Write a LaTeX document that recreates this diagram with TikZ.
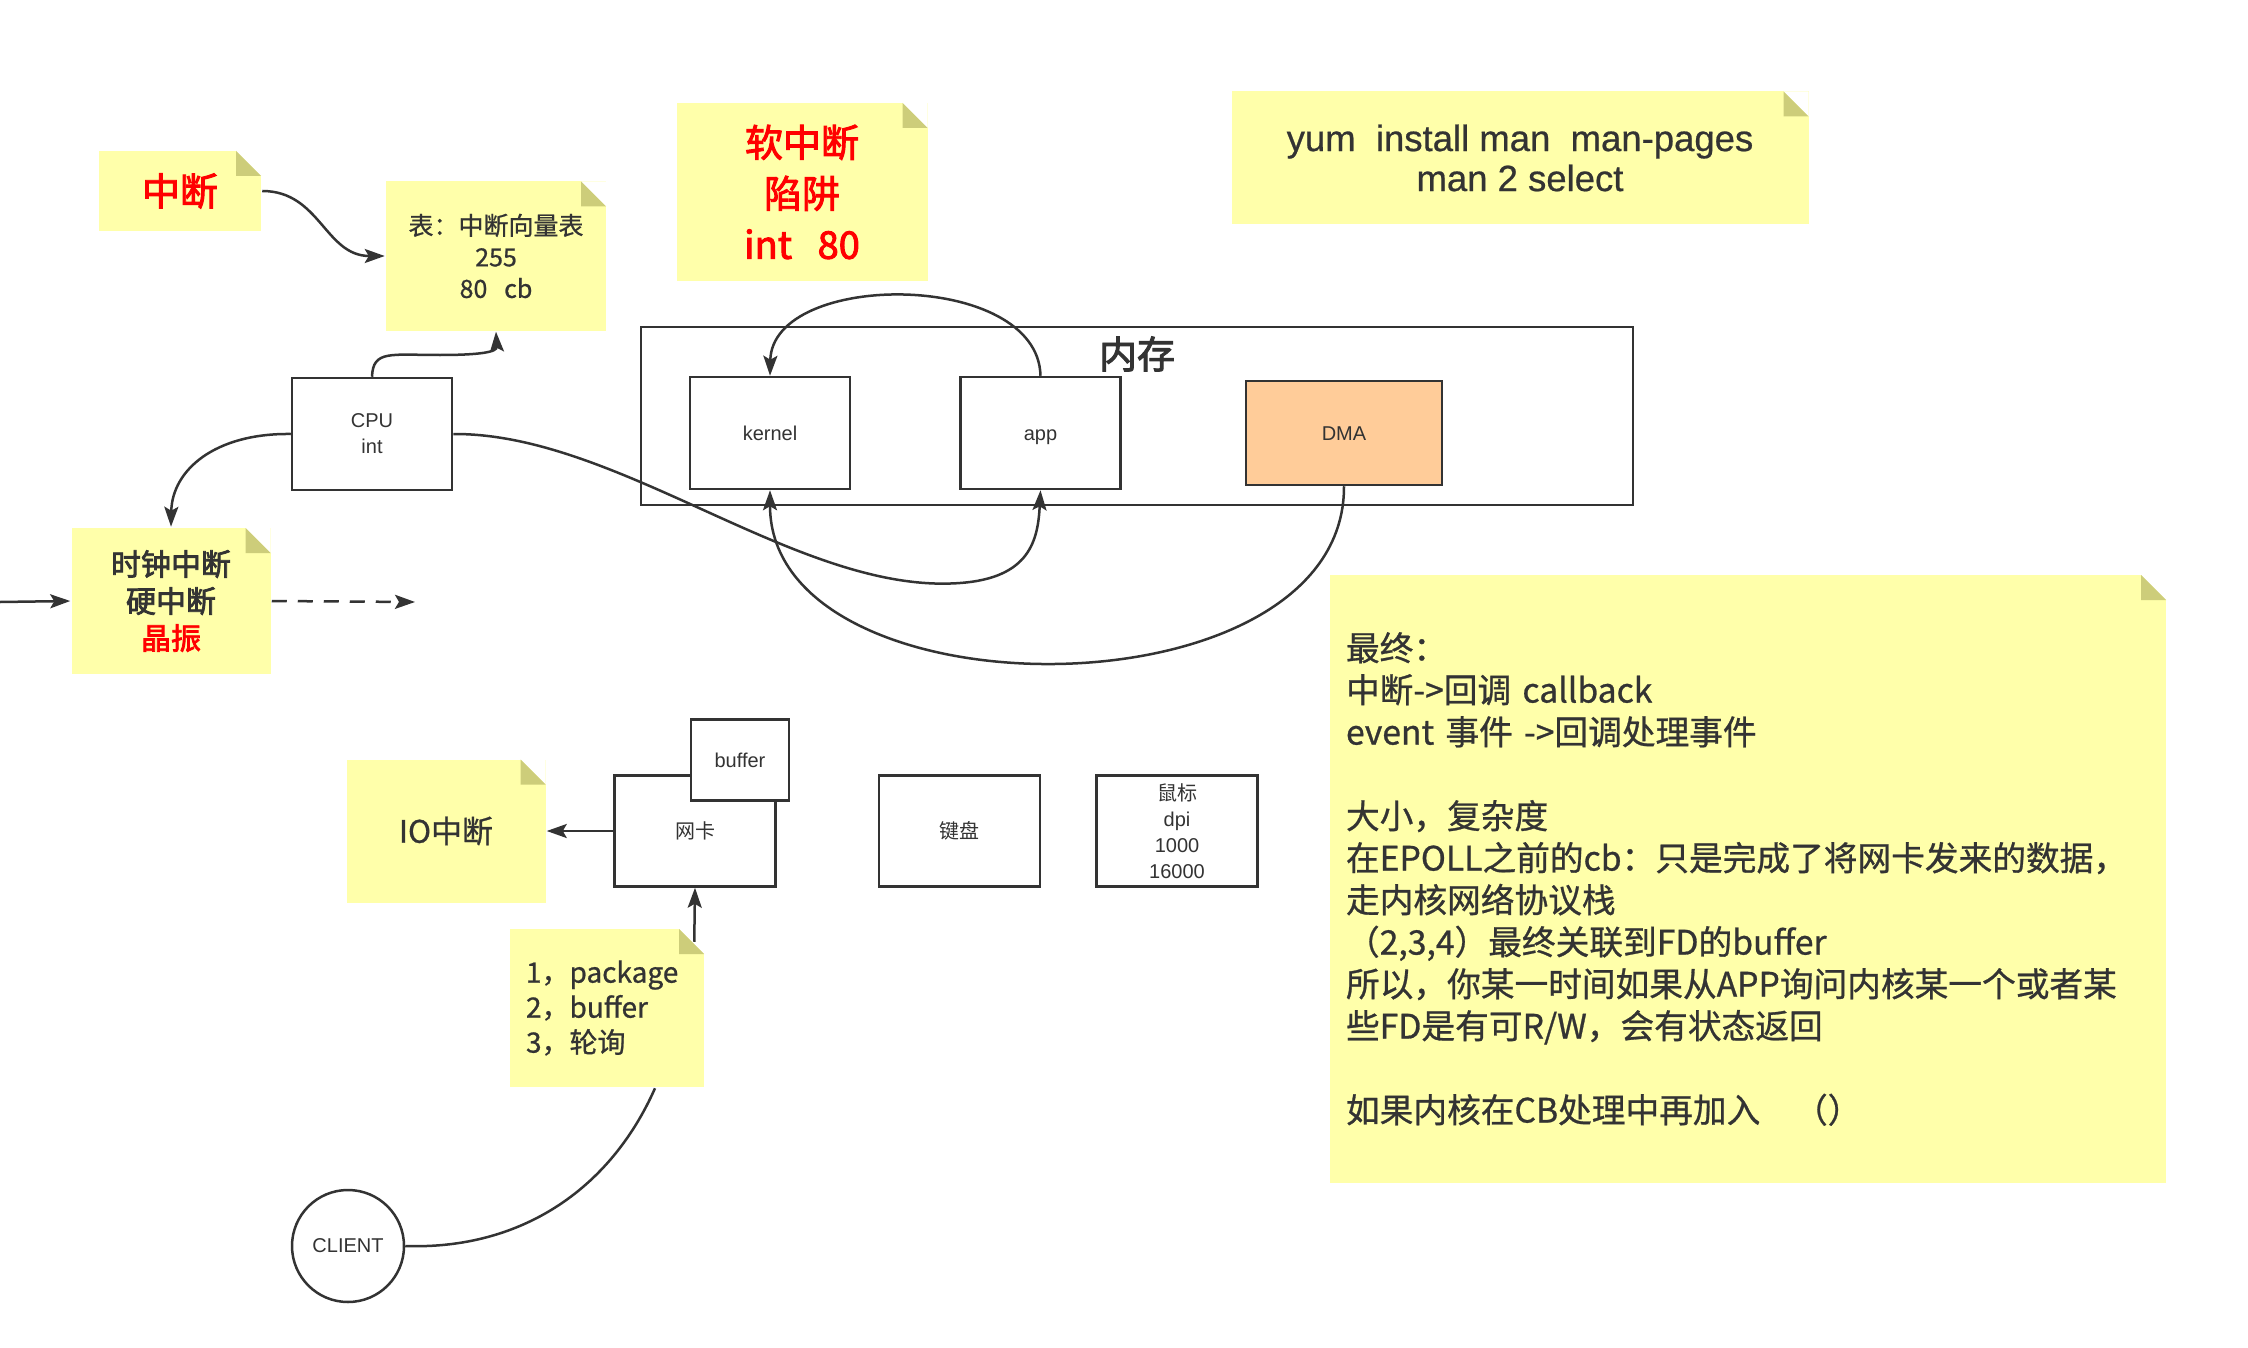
\documentclass[tikz,border=0pt]{standalone}
\usepackage{fontspec}
\setmainfont{Liberation Sans}
\newfontfamily\cjk{Noto Sans CJK SC}
\newfontfamily\cjkmid{Noto Sans CJK SC}[FakeBold=0.8]
\newfontfamily\cjkheavy{Noto Sans CJK SC}[FakeBold=2.5]
\newfontfamily\latmid{Liberation Sans}[FakeBold=0.6]
\usetikzlibrary{arrows.meta,positioning}
\definecolor{notefill}{HTML}{FFFFAA}
\definecolor{foldfill}{HTML}{CDCD7A}
\definecolor{dmafill}{HTML}{FFCC99}
\definecolor{ink}{HTML}{333333}
\definecolor{hot}{HTML}{FF0000}

\begin{document}
\begin{tikzpicture}[x=1pt, y=-1pt, color=ink, line width=2.5pt]
\tikzset{box/.style={draw=ink, fill=white, line width=2.5pt, minimum width=160pt, minimum height=112pt, inner sep=0pt, align=center, font=\fontsize{20}{26}\selectfont}}
\tikzset{oneline/.style={text height=18pt, text depth=4pt}}
\tikzset{notebox/.style={fill=notefill, inner sep=0pt, align=center,
  path picture={
    \fill[white] ([xshift=-25pt]path picture bounding box.north east) -- (path picture bounding box.north east) -- ([yshift=-25pt]path picture bounding box.north east) -- cycle;
    \fill[foldfill] ([xshift=-25pt]path picture bounding box.north east) -- ([xshift=-25pt,yshift=-25pt]path picture bounding box.north east) -- ([yshift=-25pt]path picture bounding box.north east) -- cycle;}}}
\tikzset{arrow/.style={-{Stealth[length=20pt,width=14pt,inset=4pt]}, line width=2.5pt}}
\fill[white] (0,0) rectangle (2248,1348);
\useasboundingbox (0,0) rectangle (2248,1348);

% notes
\node[notebox, minimum width=162pt, minimum height=80pt, text=hot, font=\cjkheavy\fontsize{38}{46}\selectfont] (irq) at (180,191) {中断};
\node[notebox, minimum width=220pt, minimum height=149pt, font=\cjkmid\fontsize{25}{31.5}\selectfont] (vec) at (496,256) {表：中断向量表\\255\\80\ \ \ cb};
\node[notebox, minimum width=251pt, minimum height=178pt, text=hot, font=\cjkheavy\fontsize{38}{51}\selectfont] (soft) at (802,192) {软中断\\陷阱\\int\ \ \ 80};
\node[notebox, minimum width=577pt, minimum height=133pt, font=\latmid\fontsize{36.5}{40}\selectfont] (man) at (1520,158) {yum\ \ install man\ \ man-pages\\man 2 select};
\node[notebox, minimum width=199pt, minimum height=146pt, font=\cjkheavy\fontsize{30}{37}\selectfont] (clock) at (171,601) {时钟中断\\硬中断\\\textcolor{hot}{晶振}};
\node[notebox, minimum width=199pt, minimum height=143pt, font=\cjkmid\fontsize{31}{37}\selectfont] (io) at (446,831) {IO中断};
\node[notebox, minimum width=194pt, minimum height=158pt, text width=162pt, align=left, font=\cjkmid\fontsize{28}{35}\selectfont] (pkg) at (607,1008) {1，package\\2，buffer\\3，轮询};
\node[notebox, minimum width=836pt, minimum height=608pt, text width=804pt, align=left, font=\cjkmid\fontsize{33.7}{42}\selectfont] (sum) at (1748,879) {最终：\\中断->回调 callback\\event 事件 ->回调处理事件\\[42pt]大小，复杂度\\在EPOLL之前的cb：只是完成了将网卡发来的数据，\\走内核网络协议栈\\（2,3,4）最终关联到FD的buffer\\所以，你某一时间如果从APP询问内核某一个或者某\\些FD是有可R/W，会有状态返回\\[42pt]如果内核在CB处理中再加入\ \ \ （）};

% memory
\node[draw, minimum width=992pt, minimum height=178pt] (mem) at (1137,416) {};
\node[font=\cjkheavy\fontsize{38}{38}\selectfont] (memlabel) at (1137,354) {内存};
\node[box, oneline] (kernel) at (770,433) {kernel};
\node[box, oneline, right=108pt of kernel] (app) {app};
\node[box, oneline, fill=dmafill, minimum width=196pt, minimum height=104pt] (dma) at (1344,433) {DMA};
\node[box] (cpu) at (372,434) {CPU\\int};

% devices
\node[box, oneline, minimum width=161pt, minimum height=111pt, font=\cjk\fontsize{20}{26}\selectfont] (nic) at (695,831) {网卡};
\node[box, oneline, minimum width=98pt, minimum height=81pt] (buf) at (740,760) {buffer};
\node[box, oneline, minimum width=161pt, minimum height=111pt, font=\cjk\fontsize{20}{26}\selectfont, right=101pt of nic] (kbd) {键盘};
\node[box, minimum width=161pt, minimum height=111pt, right=54pt of kbd] (mouse) {{\cjk 鼠标}\\dpi\\1000\\16000};
\node[circle, draw, minimum size=112pt, inner sep=0pt, font=\fontsize{20}{24}\selectfont] (client) at (348,1246) {CLIENT};

\coordinate (edge) at (0,602);
\coordinate (tick) at (415,602);

% connectors
\draw[arrow] (irq.east) .. controls (320,191) and (325,256) .. (vec.west);
\draw[arrow] (cpu.north) .. controls (373,350) and (390,355) .. (440,355) .. controls (480,355) and (497,352) .. (vec.south);
\draw[arrow] (cpu.west) .. controls (215,433) and (172,470) .. (clock.north);
\draw[arrow] (edge) -- (clock.west);
\draw[arrow, dash pattern=on 15pt off 11pt] (clock.east) -- (tick);
\draw[arrow] (cpu.east) .. controls (620,433) and (800,595) .. (960,583) .. controls (1030,578) and (1038,540) .. (app.south);
\draw[arrow] (app.north) .. controls (1038,270) and (772,270) .. (kernel.north);
\draw[arrow] (dma.south) .. controls (1345,720) and (770,720) .. (kernel.south);
\draw[arrow] (nic.west) -- (io.east);
\draw[arrow] ([xshift=-11pt,yshift=-14pt]pkg.north east) -- (nic.south);
\draw (client.east) .. controls (520,1250) and (610,1190) .. ([xshift=48pt]pkg.south);
\end{tikzpicture}
\end{document}
